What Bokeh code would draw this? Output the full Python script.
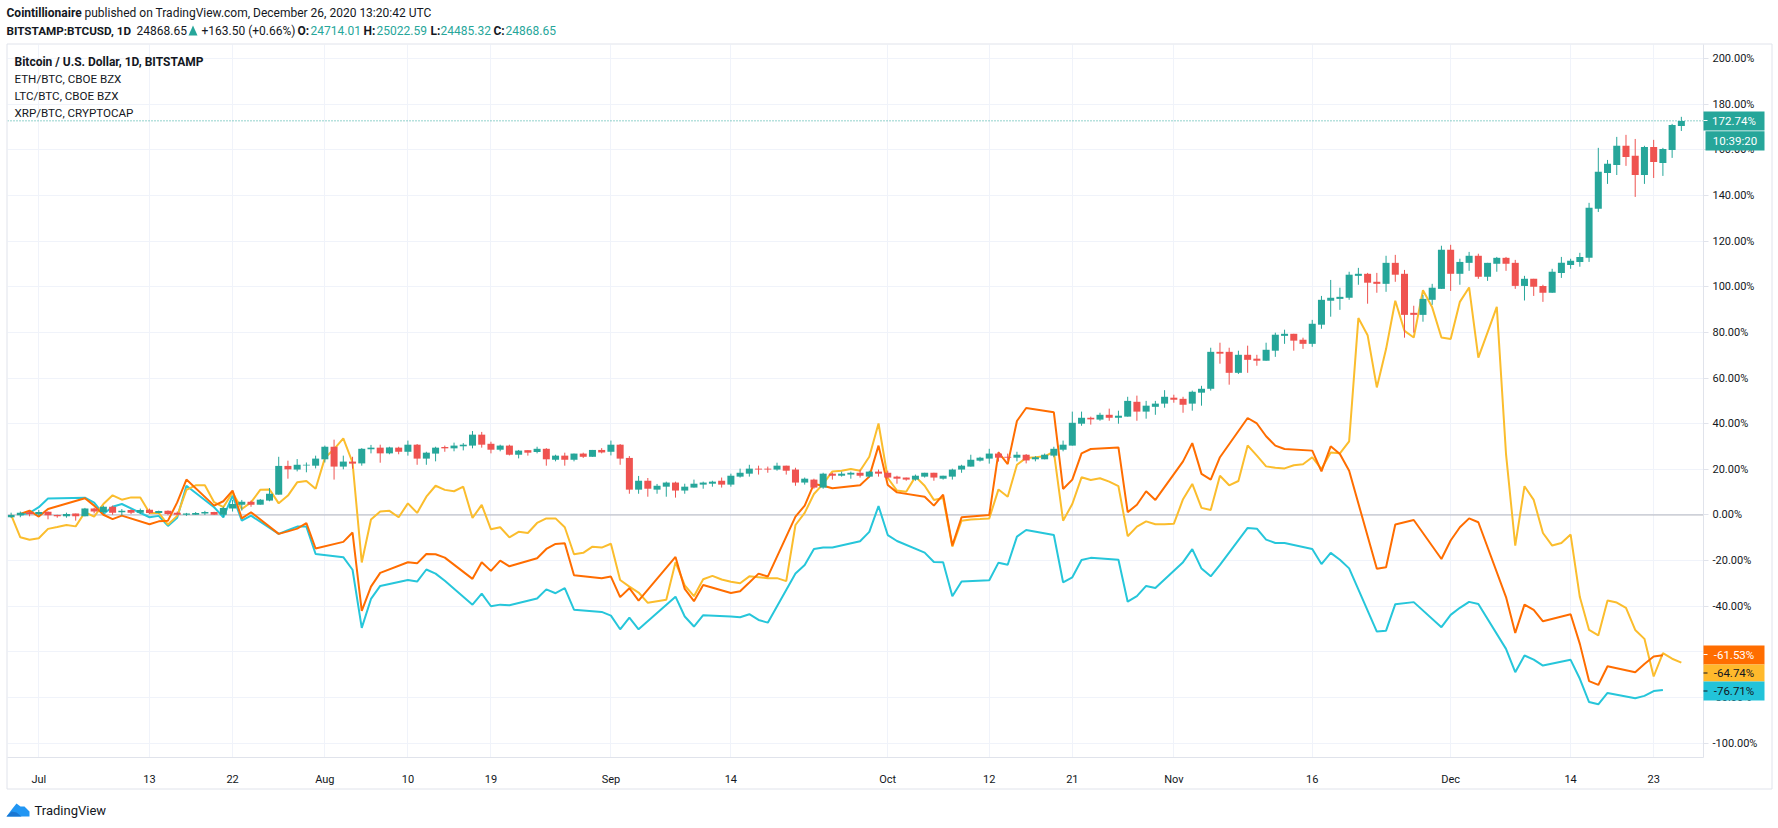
from bokeh.plotting import figure
from bokeh.embed import file_html
from bokeh.resources import INLINE
from bokeh.models import FixedTicker, Span, Label, Range1d

# ---- x axis: daily index, 0 = 2020-06-28 ----
x_tick_idx = [3, 15, 24, 34, 43, 52, 65, 78, 95, 106, 115, 126, 141, 156, 169, 178]
x_tick_labels = ["Jul", "13", "22", "Aug", "10", "19", "Sep", "14", "Oct", "12", "21", "Nov", "16", "Dec", "14", "23"]
y_ticks = [-100, -80, -60, -40, -20, 0, 20, 40, 60, 80, 100, 120, 140, 160, 180, 200]

# ---- BTC candles, % change ----
opens = [-1.0,-0.1,1.2,0.3,1.4,0.0,-0.6,0.6,-0.6,2.8,
1.3,3.6,1.2,2.2,1.0,2.3,0.9,1.8,1.0,0.1,
0.1,0.6,1.3,0.1,2.8,4.5,5.8,4.5,6.3,8.9,
21.5,19.9,21.7,21.6,24.4,29.9,21.2,23.4,22.6,28.8,
29.5,27.0,29.5,27.7,30.8,24.7,26.9,29.8,29.2,30.1,
30.4,35.2,31.2,28.6,30.4,26.4,28.4,27.6,29.0,24.2,
26.0,24.2,26.9,25.5,28.5,27.7,30.8,25.0,11.1,15.0,
11.1,12.4,14.2,10.7,12.0,13.3,13.7,15.0,13.3,16.8,
18.1,20.3,20.3,19.9,21.6,19.9,14.2,15.5,12.0,18.1,
17.2,17.7,18.5,16.8,19.0,18.5,16.8,16.4,15.5,16.8,
18.5,15.9,16.8,19.9,21.2,23.8,24.7,26.9,25.5,25.1,
26.4,24.4,24.4,26.0,28.6,30.4,40.0,42.6,41.8,43.9,
42.6,43.1,49.6,45.3,47.4,48.8,51.4,50.9,48.8,53.6,
55.3,71.5,71.5,62.3,70.2,68.5,67.6,72.0,78.5,79.4,
76.8,75.0,83.4,93.9,94.7,95.2,104.8,105.7,102.2,101.3,
110.5,105.7,88.6,87.7,94.3,99.1,116.2,105.7,110.5,113.6,
104.4,110.1,112.7,110.5,100.4,103.5,100.4,97.4,106.1,109.6,
110.9,112.7,134.2,149.9,153.4,161.8,157.4,149.0,161.3,154.3,
160.0,170.5]
closes = [0.0,1.0,0.3,1.3,-0.1,-0.6,0.4,-0.6,2.8,1.5,
3.6,1.0,1.9,1.0,2.2,0.9,1.7,0.4,0.1,0.6,
0.9,1.3,0.1,3.1,4.8,5.8,4.5,6.7,9.3,21.5,
20.0,22.0,22.0,24.7,29.9,21.2,23.4,22.5,29.0,29.5,
27.0,29.6,27.7,30.8,24.7,27.3,29.5,29.2,30.4,30.8,
35.2,30.8,28.6,30.4,26.4,28.2,27.3,29.0,24.4,26.0,
24.2,26.9,25.5,28.5,27.4,30.8,24.7,11.1,15.0,11.5,
12.8,14.2,10.7,12.4,13.7,14.2,14.6,13.3,17.2,18.5,
20.3,19.9,19.9,21.6,19.4,14.2,15.9,12.0,18.1,17.2,
18.1,18.5,17.2,19.0,18.1,16.4,15.9,15.5,17.2,18.5,
16.4,17.2,19.9,21.6,24.2,25.1,26.9,25.1,25.1,26.4,
23.9,25.3,26.4,29.0,30.8,40.4,42.6,41.9,43.9,42.6,
43.5,50.0,45.3,47.9,48.8,51.8,50.5,48.3,54.0,55.3,
71.5,70.7,62.3,70.2,68.0,67.6,72.4,79.0,79.4,76.4,
75.0,83.8,94.3,95.2,95.6,105.3,105.7,101.8,101.3,110.5,
105.3,87.7,87.7,94.7,99.6,116.2,105.7,110.9,113.6,104.4,
110.5,112.7,110.1,100.4,103.5,100.0,97.4,106.6,110.5,111.4,
113.1,134.6,150.4,153.9,161.8,156.9,149.0,161.3,154.7,160.4,
170.9,172.7]
highs = [1.0,1.5,1.9,2.2,1.5,0.1,1.0,0.6,3.1,3.2,
4.1,4.1,2.6,2.5,2.8,2.8,1.9,2.0,1.5,0.9,
1.3,1.8,1.4,3.6,6.6,6.6,6.3,7.0,11.8,25.5,
23.8,24.5,23.0,26.0,30.4,33.0,26.0,25.5,29.3,30.7,
30.8,29.9,29.9,32.6,31.1,27.7,29.9,30.4,31.7,31.5,
36.8,36.4,32.1,30.8,30.8,28.5,28.4,29.9,29.3,26.4,
27.3,26.9,27.3,28.5,29.3,32.6,31.1,25.8,17.1,16.2,
13.6,14.6,14.6,13.7,15.5,14.6,15.0,16.4,18.1,20.3,
22.0,21.6,21.2,22.9,21.6,20.7,16.4,15.9,18.5,18.5,
19.0,19.0,19.9,19.4,19.9,19.4,17.2,16.4,17.7,18.5,
18.5,17.2,20.3,22.0,26.4,25.5,29.0,27.7,26.9,27.7,
26.7,25.8,26.9,29.9,32.6,45.3,45.3,43.1,44.8,46.6,
45.7,51.8,52.3,50.0,50.0,54.7,52.7,51.8,54.5,56.6,
73.3,75.5,73.3,72.0,74.2,70.2,75.5,79.9,81.2,79.4,
77.7,85.5,96.0,103.0,99.6,106.6,108.3,106.1,106.1,113.6,
114.0,107.4,91.7,96.5,101.3,118.0,118.4,112.3,115.3,114.5,
110.5,113.1,113.1,111.8,104.8,103.5,100.9,107.9,113.1,112.3,
114.9,136.8,160.9,155.6,165.7,166.6,164.8,161.8,164.4,160.9,
171.4,174.5]
lows = [-1.3,-1.0,-0.6,-0.3,-1.9,-1.2,-1.2,-2.5,-0.6,0.7,
0.7,0.1,-0.3,0.4,0.4,0.4,0.7,-0.1,-0.1,-0.4,
0.0,0.0,0.0,-1.0,1.5,1.9,3.6,4.5,6.0,8.9,
15.9,19.1,18.7,20.4,23.0,15.5,20.0,20.3,21.6,27.0,
22.9,26.6,26.6,26.0,22.0,22.0,23.5,27.7,27.9,28.3,
29.2,29.5,27.0,27.9,26.1,24.8,26.0,27.0,21.6,23.5,
21.6,23.5,25.0,25.5,27.0,26.1,22.0,9.3,9.3,8.0,
9.3,8.0,7.6,9.3,12.0,11.5,12.4,12.0,12.4,16.4,
16.8,17.7,18.5,19.4,17.7,12.8,13.3,11.5,11.5,15.5,
16.8,15.9,16.4,16.4,16.8,15.9,13.7,15.0,15.0,16.4,
15.0,15.5,15.5,18.5,21.2,23.4,22.5,23.4,23.8,23.5,
22.6,23.5,24.4,25.3,27.9,30.4,39.1,39.6,41.3,41.3,
40.0,43.1,41.3,42.2,43.9,47.0,49.2,44.8,45.7,47.9,
54.5,66.3,57.1,61.8,62.3,65.4,67.6,69.3,75.0,72.0,
72.8,73.7,81.6,86.9,89.9,94.3,100.9,92.6,97.4,97.8,
102.2,77.7,79.9,84.7,92.1,99.1,98.2,100.9,107.0,103.5,
102.6,106.6,107.0,99.1,94.0,96.0,93.4,97.4,103.9,107.9,
108.8,110.9,132.8,145.1,149.0,153.0,139.4,145.1,147.7,148.6,
156.5,168.3]

# ---- stock-exchange listed series: trading days only ----
cboe_idx = [1,2,3,4, 8,9,10,11,12, 15,16,17,18,19, 22,23,24,25,26,
29,30,31,32,33, 36,37,38,39,40, 43,44,45,46,47, 50,51,52,53,54,
57,58,59,60,61, 64,65,66,67,68, 72,73,74,75, 78,79,80,81,82,
85,86,87,88,89, 92,93,94,95,96, 99,100,101,102,103, 106,107,108,109,110,
113,114,115,116,117, 120,121,122,123,124, 127,128,129,130,131,
134,135,136,137,138, 141,142,143,144,145, 148,149,150,152,
155,156,157,158,159, 162,163,164,165,166, 169,170,171,172,173, 176,177,178,179]
orange_vals = [0.4,1.9,-0.7,2.6, 7.3,4.1,0.1,-1.8,-0.3, -4.1,-2.8,-2.5,5.5,15.5, 4.1,6.0,10.7,-1.5,1.2,
-8.3,-7.2,-6.0,-3.6,-14.7, -11.8,-7.7,-42.0,-31.4,-25.4, -20.7,-21.2,-17.1,-17.2,-18.7, -28.0,-20.7,-24.5,-20.0,-22.5,
-19.0,-14.9,-12.7,-12.4,-26.4, -27.7,-27.0,-36.0,-32.1,-37.5, -18.4,-32.4,-37.8,-30.7, -34.2,-33.4,-29.6,-25.7,-27.0,
-0.7,4.1,13.6,12.8,11.7, 13.0,16.8,30.4,13.1,9.9, 8.0,4.1,8.9,-13.4,-1.0, 0.0,27.4,22.3,41.2,46.9,
45.0,11.4,15.5,27.0,28.9, 29.6,1.2,4.5,10.4,6.6, 23.5,31.5,18.0,15.5,25.3,
42.5,40.1,34.5,30.4,28.9, 28.2,19.1,30.1,26.7,19.4, -23.6,-22.9,-4.2,-2.2,
-19.3,-11.2,-5.4,-1.5,-3.2, -36.0,-51.7,-39.3,-41.6,-46.6, -43.5,-56.5,-72.8,-74.5,-66.3, -68.9,-65.3,-62.0,-61.5]
cyan_vals = [0.1,0.9,3.4,7.2, 7.6,5.4,0.4,3.6,4.8, -1.0,-0.4,-4.8,-1.2,12.8, 3.4,-1.0,8.5,-2.5,-0.3,
-8.3,-6.7,-5.1,-5.1,-17.1, -18.5,-24.0,-49.5,-36.8,-31.1, -28.5,-29.2,-23.9,-25.7,-28.8, -39.3,-34.5,-40.0,-39.3,-39.6,
-36.6,-32.6,-34.3,-32.1,-41.5, -42.5,-44.1,-50.1,-45.0,-50.1, -35.8,-44.5,-48.9,-43.9, -44.5,-44.8,-43.5,-46.0,-47.2,
-25.7,-21.9,-14.9,-14.3,-14.3, -11.5,-7.4,3.9,-8.8,-11.4, -16.5,-20.6,-20.7,-35.6,-29.2, -28.6,-20.9,-21.8,-9.5,-6.6,
-8.8,-29.5,-27.3,-19.7,-18.8, -19.6,-38.0,-35.6,-31.1,-32.0, -20.7,-15.0,-23.5,-26.9,-21.9,
-5.7,-6.0,-10.8,-12.3,-12.3, -14.9,-21.5,-16.6,-19.6,-23.4, -51.1,-50.7,-39.1,-38.2,
-49.2,-43.8,-40.7,-38.1,-39.0, -58.7,-68.9,-61.6,-63.4,-66.0, -63.5,-71.8,-82.0,-83.0,-78.0, -80.3,-79.3,-77.2,-76.7]

# ---- XRP/BTC: every day, index 0..181 ----
yellow_vals = [0.0,-9.8,-10.9,-10.2,-6.1,-5.3,-4.4,-5.0,1.2,-0.7,
4.8,8.6,6.7,7.7,7.7,0.9,0.9,-4.2,-0.4,11.0,
13.0,13.0,5.6,3.4,9.9,2.6,5.5,11.0,11.2,5.1,
8.5,14.3,14.9,11.5,24.9,28.9,33.6,23.0,-20.8,-2.0,
1.5,1.8,-1.0,5.1,0.9,8.0,12.8,11.0,10.4,12.4,
-1.3,4.4,-6.3,-5.4,-9.8,-7.4,-7.9,-3.5,-1.5,-1.5,
-5.4,-17.2,-16.6,-13.9,-14.3,-12.6,-28.5,-31.4,-34.0,-38.5,
-37.8,-37.2,-20.7,-30.9,-35.6,-28.2,-26.7,-28.3,-29.3,-29.9,
-26.9,-27.3,-27.7,-27.7,-29.0,-4.4,0.9,9.2,13.6,19.1,
19.4,20.1,19.4,25.5,40.1,16.2,10.7,10.2,16.8,12.8,
6.6,7.4,-13.9,-2.5,-2.0,-1.8,-1.5,11.2,8.0,22.0,
25.0,25.3,25.7,27.7,-2.5,4.8,16.5,15.3,16.1,14.6,
12.6,-9.3,-5.1,-2.8,-4.1,-4.1,-3.9,6.9,13.6,3.1,
2.2,17.2,13.0,14.9,30.5,26.0,21.3,20.7,20.4,21.8,
22.2,25.3,20.1,27.4,27.0,32.3,86.3,78.8,55.9,72.7,
93.9,80.7,77.8,98.5,91.0,77.8,77.1,93.4,99.7,69.0,
80.0,91.2,26.7,-13.4,12.6,6.6,-7.9,-13.4,-12.3,-8.6,
-36.0,-50.4,-52.8,-37.5,-38.4,-40.7,-50.4,-54.3,-70.8,-60.6,
-63.0,-64.7]

last_close = 172.74
tag_values = ["172.74%", "-61.53%", "-64.74%", "-76.71%"]
legend_lines = ["ETH/BTC, CBOE BZX", "LTC/BTC, CBOE BZX", "XRP/BTC, CRYPTOCAP"]

UP, DOWN = "#26a69a", "#ef5350"
ORANGE, YELLOW, CYAN = "#ff6d00", "#fbbd2d", "#26c6da"
INK = "#131722"
FONT = "Roboto"

p = figure(width=1778, height=828, output_backend="svg", toolbar_location=None,
           y_axis_location="right", x_range=(-0.39, 183.4), y_range=(-106.3, 206.2),
           min_border_left=7, min_border_right=75, min_border_top=44, min_border_bottom=71,
           background_fill_color="white", border_fill_color="white")
p.outline_line_color = None

p.xaxis.ticker = FixedTicker(ticks=x_tick_idx)
p.xaxis.major_label_overrides = {k: v for k, v in zip(x_tick_idx, x_tick_labels)}
p.yaxis.ticker = FixedTicker(ticks=y_ticks)
p.yaxis.major_label_overrides = {v: f"{v:.2f}%" for v in y_ticks}
for ax in (p.xaxis[0], p.yaxis[0]):
    ax.axis_line_color = "#e0e3eb"
    ax.major_tick_line_color = "#e0e3eb"
    ax.minor_tick_out = 0
    ax.minor_tick_in = 0
    ax.major_tick_in = 0
    ax.major_label_text_font = FONT
    ax.major_label_text_font_size = "11px"
    ax.major_label_text_color = INK
p.xaxis.major_tick_out = 0
p.xaxis.major_label_standoff = 15
p.yaxis.major_tick_out = 5
p.yaxis.major_label_standoff = 4
p.grid.grid_line_color = "#f0f3fa"
p.grid.grid_line_width = 1

p.add_layout(Span(location=0, dimension="width", line_color="#b2b5be", line_width=1, level="underlay"))

p.line(cboe_idx, cyan_vals, line_color=CYAN, line_width=2)
p.line(list(range(len(yellow_vals))), yellow_vals, line_color=YELLOW, line_width=2)
p.line(cboe_idx, orange_vals, line_color=ORANGE, line_width=2)

idx = list(range(len(opens)))
colors = [UP if c >= o else DOWN for o, c in zip(opens, closes)]
p.segment(idx, lows, idx, highs, line_color=colors, line_width=1)
p.vbar(idx, 0.76, bottom=[min(o, c) for o, c in zip(opens, closes)],
       top=[max(o, c) for o, c in zip(opens, closes)], fill_color=colors, line_color=None)

p.add_layout(Span(location=last_close, dimension="width", line_color=UP, line_width=1, line_dash="1 2"))

# Transparent page-sized layer for everything that lies outside the plot frame.
ov = figure(width=1778, height=828, output_backend="svg", toolbar_location=None,
            x_axis_location=None, y_axis_location=None, min_border=0,
            x_range=Range1d(0, 1778), y_range=Range1d(828, 0),
            background_fill_alpha=0, border_fill_alpha=0,
            styles={"position": "absolute", "left": "0px", "top": "0px", "pointer-events": "none"})
ov.outline_line_color = None
ov.grid.visible = False


def text(x, y, s, size="12px", color=INK, bold=False, align="left"):
    ov.add_layout(Label(x=x, y=y, text=s, text_font=FONT, text_font_size=size, text_color=color,
                        text_font_style="bold" if bold else "normal",
                        text_baseline="middle", text_align=align))


def box(l, r, t, b, color):
    ov.quad(left=[l], right=[r], top=[t], bottom=[b], fill_color=color, line_color=None)


# outer chart border
ov.quad(left=[6.5], right=[1771.5], top=[43.5], bottom=[788.5], fill_alpha=0, line_color="#e0e3eb", line_width=1)

# header
text(6, 12, "Cointillionaire", bold=True)
text(84, 12, "published on TradingView.com, December 26, 2020 13:20:42 UTC")
text(6, 30, "BITSTAMP:BTCUSD, 1D", "11.7px", bold=True)
text(136, 30, "24868.65")
ov.patch([188, 197, 192.5], [35, 35, 25], fill_color=UP, line_color=None)
text(201, 30, "+163.50 (+0.66%)")
for lx, vx, k, v in [(297, 310, "O:", "24714.01"), (363, 376, "H:", "25022.59"),
                     (430, 440, "L:", "24485.32"), (493, 505, "C:", "24868.65")]:
    text(lx, 30, k, bold=True)
    text(vx, 30, v, color=UP)

# legend
text(14, 61, "Bitcoin / U.S. Dollar, 1D, BITSTAMP", bold=True)
for ly, s in zip((78, 95, 112), legend_lines):
    text(14, ly, s, "11.6px")

# price tags
box(1703, 1764, 111, 130, UP)
text(1733.5, 120.5, tag_values[0], "11.5px", "white", align="center")
box(1705, 1764, 130.7, 150, UP)
text(1734.5, 140.5, "10:39:20", "11.5px", "white", align="center")
box(1703, 1764, 645, 664, ORANGE)
text(1733.5, 654.5, tag_values[1], "11.5px", "white", align="center")
box(1703, 1764, 664, 681, "#ffb92c")
text(1733.5, 672.5, tag_values[2], "11.5px", INK, align="center")
box(1703, 1764, 681, 700, "#22c3d9")
text(1733.5, 690.5, tag_values[3], "11.5px", INK, align="center")
box(1703, 1707, 119.5, 120.5, "white")
box(1703, 1707, 653.5, 654.5, "white")
box(1703, 1707, 672, 673, INK)
box(1703, 1707, 690, 691, INK)

# TradingView logo
ov.patch([6, 12, 16, 20, 24, 29, 29, 6], [816, 808, 803, 806, 806, 811, 816, 816], fill_color="#2196f3", line_color=None)
ov.patch([6, 11, 16, 21, 14], [816, 811, 812, 816, 816], fill_color="#1976d2", line_color=None)
text(34, 810, "TradingView", "13px")

open("out.html", "w").write(file_html([p, ov], INLINE))
